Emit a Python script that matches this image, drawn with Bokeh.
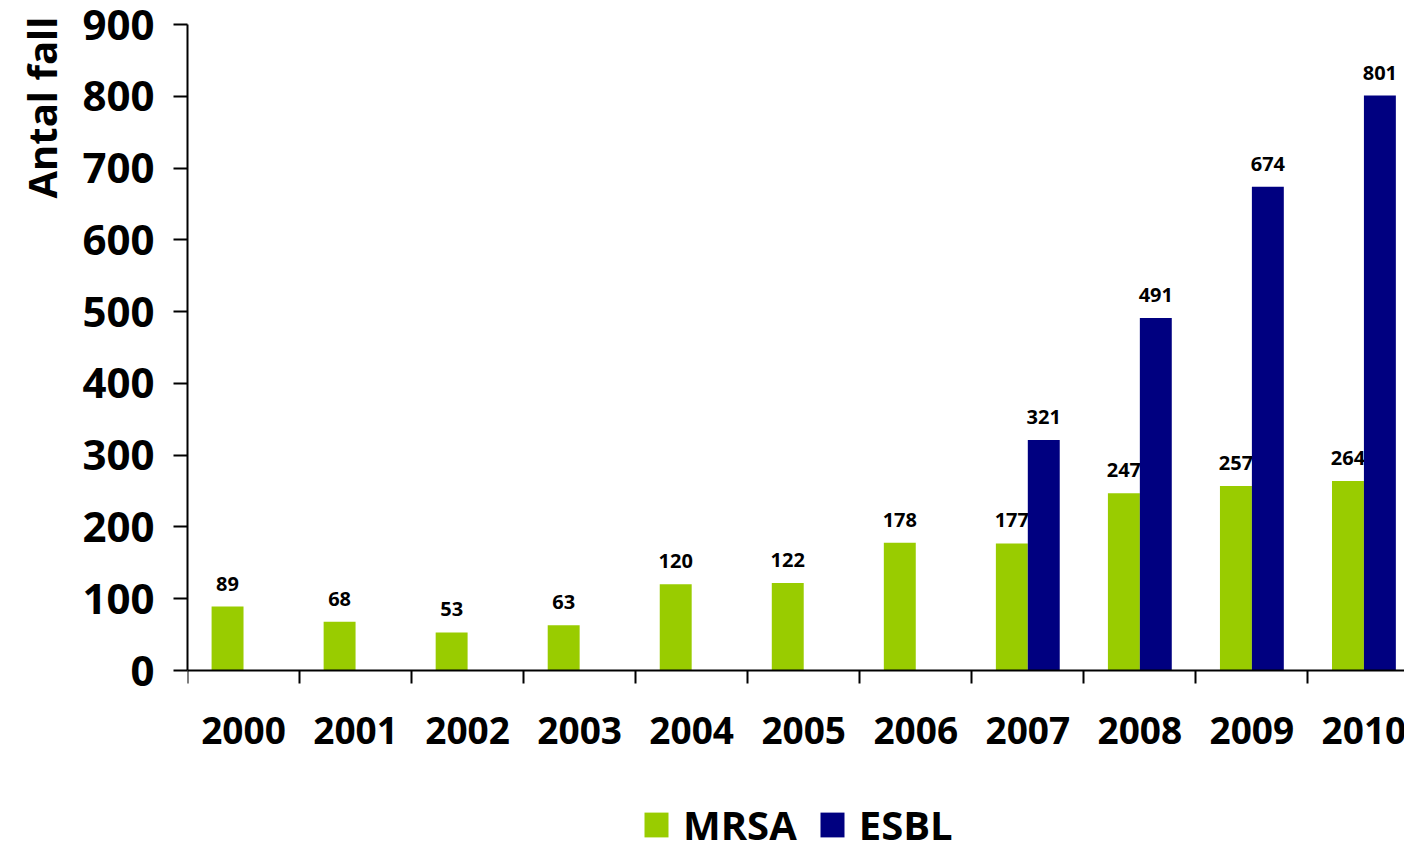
from bokeh.plotting import figure
from bokeh.models import ColumnDataSource, Range1d, FixedTicker, Legend, LegendItem, Title
from bokeh.core.properties import value
from bokeh.embed import file_html
from bokeh.resources import INLINE

years = ["2000", "2001", "2002", "2003", "2004", "2005", "2006", "2007", "2008", "2009", "2010"]
mrsa = [89, 68, 53, 63, 120, 122, 178, 177, 247, 257, 264]
esbl = [None, None, None, None, None, None, None, 321, 491, 674, 801]
y_ticks = [0, 100, 200, 300, 400, 500, 600, 700, 800, 900]
y_title = "Antal fall"

FONT = "Open Sans"
GREEN = "#99CC00"
NAVY = "#000080"
BW = 0.285

# layout: data area 646 px tall for 0..900, frame extended below to hold axis labels + legend
PLOT_H = 646
FRAME_H = 828
Y_MIN = -900 * (FRAME_H - PLOT_H) / PLOT_H

centers = [i + 0.5 for i in range(len(years))]
m_src = ColumnDataSource(dict(x=[c - BW / 2 for c in centers], top=mrsa,
                              lab=[str(v) for v in mrsa]))
ex = [c + BW / 2 for c, v in zip(centers, esbl) if v is not None]
ev = [v for v in esbl if v is not None]
e_src = ColumnDataSource(dict(x=ex, top=ev, lab=[str(v) for v in ev]))

p = figure(frame_width=1219, frame_height=FRAME_H, output_backend="svg", toolbar_location=None,
           x_range=Range1d(0, 10.88), y_range=Range1d(Y_MIN, 900),
           min_border_left=185, min_border_right=0, min_border_top=24, min_border_bottom=0)
p.outline_line_color = None
p.xgrid.visible = False
p.ygrid.visible = False

r_m = p.vbar(x="x", top="top", width=BW, source=m_src, fill_color=GREEN, line_color=None)
p.text(x="x", y="top", text="lab", source=m_src, text_align="center",
       text_baseline="alphabetic", y_offset=-23, text_font=value(FONT),
       text_font_style="bold", text_font_size="20px", text_color="black")
r_e = p.vbar(x="x", top="top", width=BW, source=e_src, fill_color=NAVY, line_color=None)
p.text(x="x", y="top", text="lab", source=e_src, text_align="center",
       text_baseline="alphabetic", y_offset=-23, text_font=value(FONT),
       text_font_style="bold", text_font_size="20px", text_color="black")

# x axis, drawn at y = 0
xa = p.xaxis[0]
xa.fixed_location = 0
xa.ticker = FixedTicker(ticks=centers, minor_ticks=list(range(len(years) + 1)))
xa.major_label_overrides = {c: y for c, y in zip(centers, years)}
xa.major_tick_out = 0
xa.major_tick_in = 0
xa.minor_tick_out = 13
xa.minor_tick_in = 0
xa.minor_tick_line_width = 2
xa.minor_tick_line_color = "black"
xa.axis_line_width = 2
xa.axis_line_color = "black"
xa.major_label_standoff = 33
xa.major_label_text_font = FONT
xa.major_label_text_font_style = "bold"
xa.major_label_text_font_size = "37px"
xa.major_label_text_color = "black"

# y axis
ya = p.yaxis[0]
ya.bounds = (0, 900)
ya.ticker = FixedTicker(ticks=y_ticks)
ya.major_tick_out = 14
ya.major_tick_in = 0
ya.minor_tick_out = 0
ya.minor_tick_in = 0
ya.major_tick_line_width = 2
ya.axis_line_width = 2
ya.axis_line_color = "black"
ya.major_label_standoff = 19
ya.major_label_text_font = FONT
ya.major_label_text_font_style = "bold"
ya.major_label_text_font_size = "42px"
ya.major_label_text_color = "black"

title = Title(text=y_title, align="right", text_font=FONT, text_font_style="bold",
              text_font_size="40px", text_color="black", standoff=22, offset=-8)
p.add_layout(title, "left")

legend = Legend(items=[LegendItem(label="MRSA", renderers=[r_m]),
                       LegendItem(label="ESBL", renderers=[r_e])],
                orientation="horizontal", location=(454, 0))
legend.border_line_color = None
legend.background_fill_alpha = 0
legend.glyph_width = 30
legend.glyph_height = 31
legend.label_height = 31
legend.label_text_font = FONT
legend.label_text_font_style = "bold"
legend.label_text_font_size = "40px"
legend.label_text_color = "black"
legend.label_standoff = 12
legend.spacing = 20
legend.padding = 0
legend.margin = 0
p.add_layout(legend, "center")

open("out.html", "w").write(file_html(p, INLINE))
